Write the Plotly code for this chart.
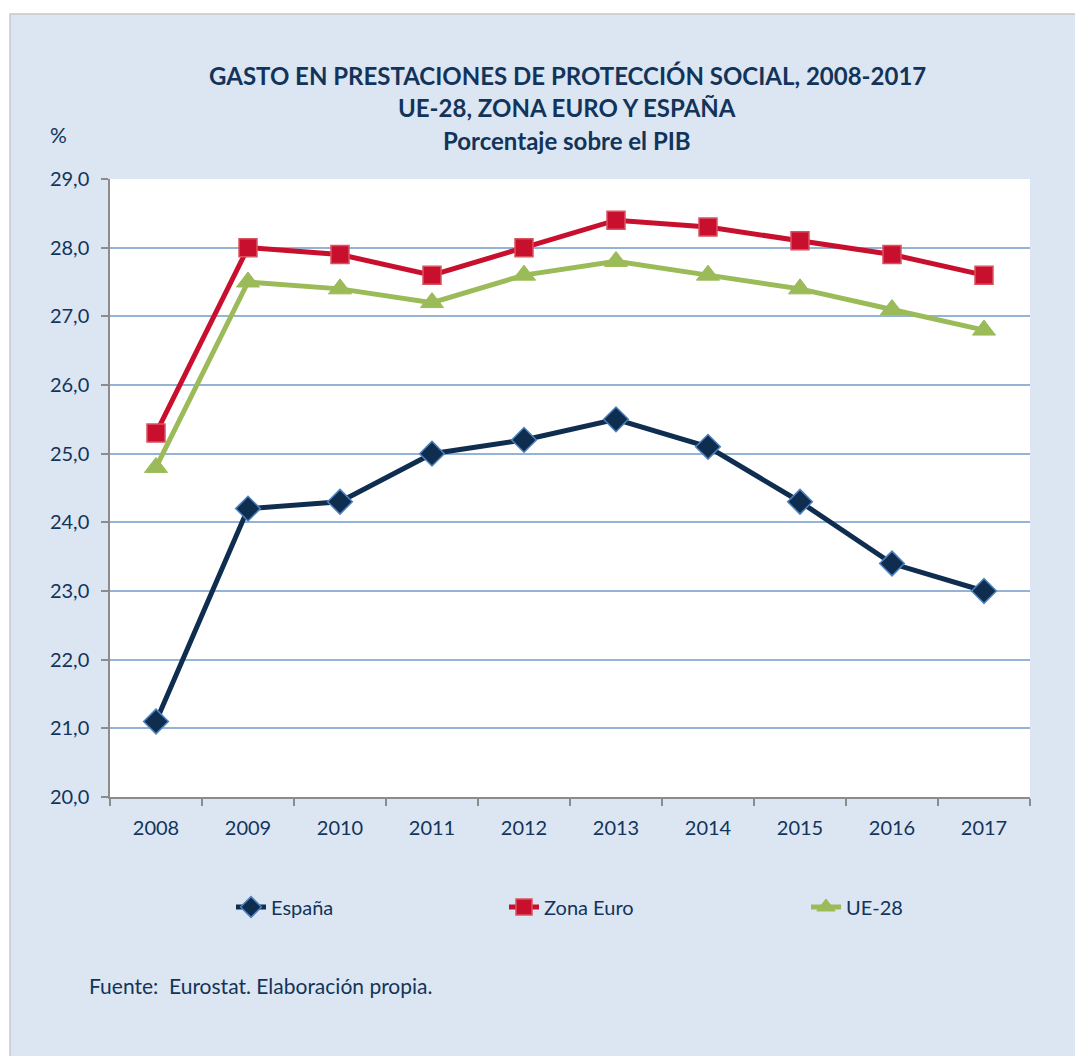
import plotly.graph_objects as go

years = ["2008", "2009", "2010", "2011", "2012", "2013", "2014", "2015", "2016", "2017"]
espana = [21.1, 24.2, 24.3, 25.0, 25.2, 25.5, 25.1, 24.3, 23.4, 23.0]
zona_euro = [25.3, 28.0, 27.9, 27.6, 28.0, 28.4, 28.3, 28.1, 27.9, 27.6]
ue28 = [24.8, 27.5, 27.4, 27.2, 27.6, 27.8, 27.6, 27.4, 27.1, 26.8]

title_lines = ["GASTO EN PRESTACIONES DE PROTECCIÓN SOCIAL, 2008-2017",
               "UE-28, ZONA EURO Y ESPAÑA",
               "Porcentaje sobre el PIB"]
source_text = "Fuente:  Eurostat. Elaboración propia."

NAVY = "#0f2d4f"
TEXT = "#12345a"
FONT = "Lato"

OFF = 8  # page body margin
SW, SH = 1083, 1056
L, R, T, B = 110, 1030, 179, 797  # plot area in screen coords

def px(x):
    return (x - L) / (R - L)

def py(y):
    return (B - y) / (B - T)

fig = go.Figure()
fig.add_trace(go.Scatter(
    x=years, y=espana, name="España", mode="lines+markers", showlegend=True,
    line=dict(color=NAVY, width=5),
    marker=dict(symbol="diamond", size=19, color=NAVY, line=dict(color="#4f81bd", width=1.5)),
    legend="legend"))
fig.add_trace(go.Scatter(
    x=years, y=zona_euro, name="Zona Euro", mode="lines+markers", showlegend=True,
    line=dict(color="#c8102e", width=5),
    marker=dict(symbol="square", size=18, color="#c8102e", line=dict(color="#d9535f", width=1.5)),
    legend="legend2"))
fig.add_trace(go.Scatter(
    x=years, y=ue28, name="UE-28", mode="lines+markers", showlegend=True,
    line=dict(color="#9bbb59", width=5),
    marker=dict(symbol="triangle-up", size=20, color="#9bbb59", line=dict(color="#9bbb59", width=1)),
    legend="legend3"))

shapes = [
    dict(type="rect", xref="paper", yref="paper", layer="below",
         x0=px(10), x1=px(SW + 20), y0=py(SH + 20), y1=py(14),
         fillcolor="#dce6f2", line=dict(color="#c8c8c8", width=1.5)),
    dict(type="rect", xref="paper", yref="paper", layer="below",
         x0=0, x1=1, y0=0, y1=1, fillcolor="white", line=dict(width=0)),
]

annotations = []
for txt, yc in zip(title_lines, [75, 107, 141]):
    annotations.append(dict(text="<b>%s</b>" % txt, xref="paper", yref="paper",
                            x=px(567), y=py(yc), xanchor="center", yanchor="middle",
                            showarrow=False, font=dict(family=FONT, size=24, color=TEXT)))
annotations.append(dict(text="%", xref="paper", yref="paper", x=px(58), y=py(135),
                        xanchor="center", yanchor="middle", showarrow=False,
                        font=dict(family=FONT, size=21, color=TEXT)))
annotations.append(dict(text=source_text, xref="paper", yref="paper", x=px(87), y=py(985),
                        xanchor="left", yanchor="middle", showarrow=False,
                        font=dict(family=FONT, size=21, color=TEXT)))

leg_common = dict(orientation="h", yref="paper", y=py(907), yanchor="middle", xanchor="left",
                  bgcolor="rgba(0,0,0,0)", font=dict(family=FONT, size=20, color=TEXT))

fig.update_layout(
    width=SW - OFF, height=SH - OFF,
    margin=dict(l=L - OFF, r=(SW - OFF) - (R - OFF), t=T - OFF, b=(SH - OFF) - (B - OFF), pad=0),
    paper_bgcolor="white", plot_bgcolor="white",
    separators=",.", showlegend=True,
    shapes=shapes, annotations=annotations,
    legend=dict(x=px(231), **leg_common),
    legend2=dict(x=px(504), **leg_common),
    legend3=dict(x=px(806), **leg_common),
    font=dict(family=FONT, color=TEXT),
)
fig.update_yaxes(range=[20, 29], dtick=1, tickformat=".1f",
                 showgrid=True, gridcolor="#95b3d7", gridwidth=1.5,
                 showline=True, linecolor="#8c8c8c", linewidth=1.5,
                 ticks="outside", ticklen=7, tickcolor="#8c8c8c", tickwidth=1.5,
                 ticklabelstandoff=8,
                 tickfont=dict(family=FONT, size=20, color=TEXT), zeroline=False)
fig.update_xaxes(type="category", tickson="boundaries", showgrid=False,
                 showline=True, linecolor="#8c8c8c", linewidth=1.5,
                 ticks="outside", ticklen=7, tickcolor="#8c8c8c", tickwidth=1.5,
                 ticklabelstandoff=12,
                 tickfont=dict(family=FONT, size=20, color=TEXT), range=[-0.5, 9.5])

fig.write_html("out.html")
